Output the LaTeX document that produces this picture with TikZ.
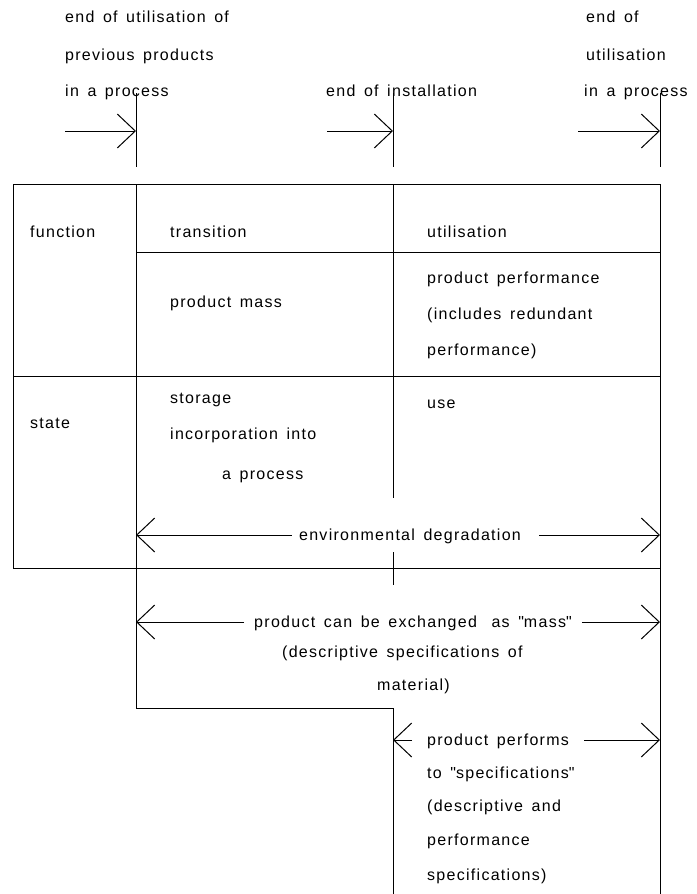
\documentclass[tikz,border=0pt]{standalone}
\usepackage{fontspec}
\setmainfont{Liberation Sans}[LetterSpace=8,WordSpace=1.5]
\usetikzlibrary{arrows.meta}
\newcommand{\dq}{\textquotedbl}
\begin{document}
\begin{tikzpicture}[x=1pt,y=-1pt,
  lbl/.style={anchor=base west, inner sep=0pt, font=\fontsize{16}{19}\selectfont},
  clbl/.style={lbl, anchor=base},
  rule/.style={line width=0.9pt, line join=miter},
  dimarrow/.style={line width=0.8pt, -{Straight Barb[length=18pt,width=34pt,line width=1pt]}},
]
\useasboundingbox (0,0) rectangle (696,894);

% ---- event labels above the chart
\node[lbl] (prevA) at (65,23)  {end of utilisation of};
\node[lbl] (prevB) at (65,60)  {previous products};
\node[lbl] (prevC) at (65,96)  {in a process};
\node[lbl] (inst)  at (326,96) {end of installation};
\node[lbl] (useA)  at (586,23) {end of};
\node[lbl] (useB)  at (586,60) {utilisation};
\node[lbl] (useC)  at (584,96) {in a process};

% ---- event markers (short vertical strokes with arrows)
\coordinate (m1t) at (136,93);  \coordinate (m1b) at (136,167);
\coordinate (m2t) at (393,93);  \coordinate (m2b) at (393,167);
\coordinate (m3t) at (660,93);  \coordinate (m3b) at (660,167);
\draw[rule] (m1t) -- (m1b);
\draw[rule] (m2t) -- (m2b);
\draw[rule] (m3t) -- (m3b);
\coordinate (a1s) at (65,131);  \coordinate (a1e) at (136,131);
\coordinate (a2s) at (327,131); \coordinate (a2e) at (393,131);
\coordinate (a3s) at (578,131); \coordinate (a3e) at (660,131);
\draw[dimarrow] (a1s) -- (a1e);
\draw[dimarrow] (a2s) -- (a2e);
\draw[dimarrow] (a3s) -- (a3e);

% ---- chart frame and rules
\draw[rule] (660,184) -- (13,184) -- (13,568) -- (660,568);
\draw[rule] (660,184) -- (660,894);
\draw[rule] (136,184) -- (136,708) -- (393,708) -- (393,894);
\draw[rule] (393,184) -- (393,498);
\draw[rule] (393,552) -- (393,585);
\draw[rule] (136,252) -- (660,252);
\draw[rule] (13,376) -- (660,376);

% ---- chart entries
\node[lbl] (fn)    at (30,237)  {function};
\node[lbl] (trans) at (170,237) {transition};
\node[lbl] (util)  at (427,237) {utilisation};
\node[lbl] (pmass) at (170,307) {product mass};
\node[lbl] (pperfA) at (427,283) {product performance};
\node[lbl] (pperfB) at (427,319) {(includes redundant};
\node[lbl] (pperfC) at (427,355) {performance)};
\node[lbl] (st)    at (30,428)  {state};
\node[lbl] (stor)  at (170,403) {storage};
\node[lbl] (incA)  at (170,439) {incorporation into};
\node[lbl] (incB)  at (222,479) {a process};
\node[lbl] (use)   at (427,408) {use};

% ---- spans
\coordinate (envL) at (136,535); \coordinate (envR) at (660,535);
\node[clbl] (env) at (410,540) {environmental degradation};
\draw[dimarrow] ([xshift=-7pt]env.west |- envL) -- (envL);
\draw[dimarrow] ([xshift=18pt]env.east |- envR) -- (envR);

\coordinate (exL) at (136,622); \coordinate (exR) at (660,622);
\node[clbl] (exch) at (413,627) {product can be exchanged\hspace{6pt} as \dq mass\dq};
\draw[dimarrow] ([xshift=-10pt]exch.west |- exL) -- (exL);
\draw[dimarrow] ([xshift=10pt]exch.east |- exR) -- (exR);
\node[lbl] (exB) at (282,657) {(descriptive specifications of};
\node[lbl] (exC) at (377,690) {material)};

\coordinate (pfL) at (393,740); \coordinate (pfR) at (660,740);
\node[lbl] (perfA) at (427,745) {product performs};
\draw[dimarrow] ([xshift=-15pt]perfA.west |- pfL) -- (pfL);
\draw[dimarrow] ([xshift=15pt]perfA.east |- pfR) -- (pfR);
\node[lbl] (perfB) at (427,778) {to \dq specifications\dq};
\node[lbl] (perfC) at (427,811) {(descriptive and};
\node[lbl] (perfD) at (427,845) {performance};
\node[lbl] (perfE) at (427,880) {specifications)};
\end{tikzpicture}
\end{document}
